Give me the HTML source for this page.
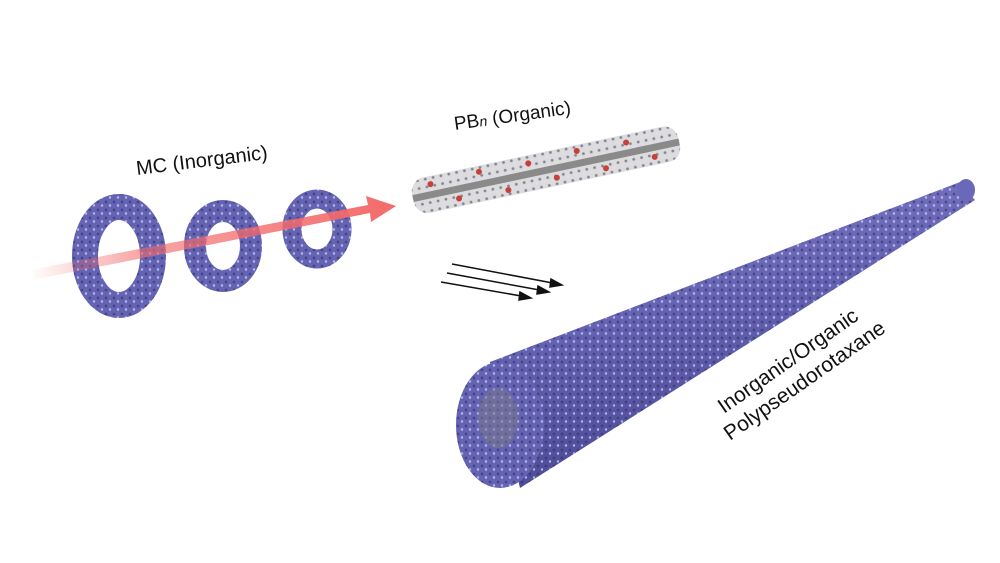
<!DOCTYPE html>
<html><head><meta charset="utf-8"><style>
html,body{margin:0;padding:0;background:#fff;}
svg{display:block;}
text{font-family:"Liberation Sans",sans-serif;fill:#111;}
</style></head><body>
<svg width="1000" height="563" viewBox="0 0 1000 563" xmlns="http://www.w3.org/2000/svg">
<defs>
<linearGradient id="arr" x1="30" y1="275" x2="395" y2="205" gradientUnits="userSpaceOnUse">
<stop offset="0" stop-color="#f26a6a" stop-opacity="0"/>
<stop offset="0.3" stop-color="#f26a6a" stop-opacity="0.6"/>
<stop offset="1" stop-color="#f46a6a" stop-opacity="1"/>
</linearGradient>
<linearGradient id="tube" x1="0" y1="0" x2="0.35" y2="1">
<stop offset="0" stop-color="#8482cc"/>
<stop offset="0.5" stop-color="#6462b2"/>
<stop offset="1" stop-color="#4a4894"/>
</linearGradient>
<pattern id="dots" width="8" height="8" patternUnits="userSpaceOnUse">
<circle cx="2" cy="2" r="1.4" fill="#2a2a55" opacity="0.5"/>
<circle cx="6" cy="5.5" r="1.2" fill="#e0e0f6" opacity="0.7"/>
</pattern>
</defs>

<g fill="none" stroke="#6563b4">
<ellipse cx="119" cy="256" rx="34" ry="49" stroke-width="26"/>
<ellipse cx="223" cy="246" rx="28" ry="35" stroke-width="22"/>
<ellipse cx="317" cy="229" rx="25" ry="30" stroke-width="19"/>
</g>
<g fill="none" stroke="url(#dots)">
<ellipse cx="119" cy="256" rx="34" ry="49" stroke-width="26"/>
<ellipse cx="223" cy="246" rx="28" ry="35" stroke-width="22"/>
<ellipse cx="317" cy="229" rx="25" ry="30" stroke-width="19"/>
</g>

<polygon points="30,270 368,205 366,196 396,206 371,222 370,213 32,280" fill="url(#arr)"/>

<g transform="rotate(-12 545 170)">
<rect x="410" y="152" width="272" height="36" rx="14" fill="#dcdcdc"/>
<rect x="410" y="152" width="272" height="36" rx="14" fill="url(#dots)"/>
<rect x="410" y="167" width="272" height="7" fill="#8a8a8a"/>
<g fill="#c8403a">
<circle cx="430" cy="160" r="3"/><circle cx="455" cy="180" r="3"/><circle cx="480" cy="158" r="3"/>
<circle cx="505" cy="182" r="3"/><circle cx="530" cy="160" r="3"/><circle cx="555" cy="180" r="3"/>
<circle cx="580" cy="158" r="3"/><circle cx="605" cy="181" r="3"/><circle cx="630" cy="160" r="3"/>
<circle cx="655" cy="180" r="3"/>
</g>
</g>

<g stroke="#111" stroke-width="1.5" fill="#111">
<line x1="452" y1="264" x2="558" y2="284"/>
<polygon points="562,285 551,279 550,287"/>
<line x1="447" y1="273" x2="545" y2="291"/>
<polygon points="549,292 538,286 537,294"/>
<line x1="441" y1="282" x2="527" y2="297"/>
<polygon points="531,298 520,292 519,300"/>
</g>

<polygon points="490,362 960,182 975,200 520,488" fill="url(#tube)"/>
<polygon points="490,362 960,182 975,200 520,488" fill="url(#dots)"/>
<ellipse cx="966" cy="190" rx="9" ry="11" fill="#6a68b8"/>
<ellipse cx="500" cy="425" rx="44" ry="63" fill="#6563b4"/>
<ellipse cx="500" cy="425" rx="44" ry="63" fill="url(#dots)"/>
<ellipse cx="498" cy="418" rx="20" ry="30" fill="#7a7a88" opacity="0.5"/>

<text x="137" y="175" font-size="20" transform="rotate(-7 137 175)">MC (Inorganic)</text>
<text x="455" y="130" font-size="19" transform="rotate(-8 455 130)">PB<tspan font-style="italic" font-size="14">n</tspan> (Organic)</text>
<text x="724" y="414" font-size="21" transform="rotate(-35 724 414)">Inorganic/Organic</text>
<text x="730" y="441" font-size="21" transform="rotate(-35 730 441)">Polypseudorotaxane</text>
</svg>
</body></html>
